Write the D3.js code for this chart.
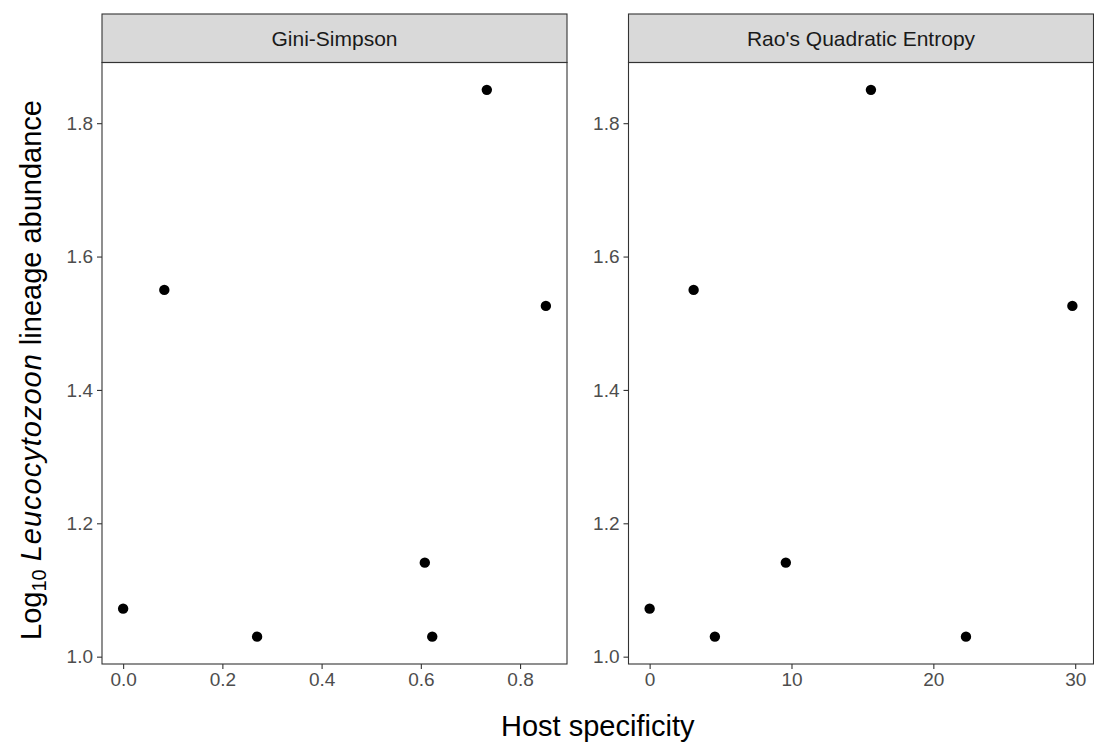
<!DOCTYPE html>
<html>
<head>
<meta charset="utf-8">
<script src="https://cdn.jsdelivr.net/npm/d3@7"></script>
<style>
  body { margin: 0; background: #fff; }
  svg text { font-family: "Liberation Sans", Arial, sans-serif; }
  .axis path { display: none; }
  .axis line { stroke: #333333; stroke-width: 1.1; }
  .axis text { fill: #4d4d4d; font-size: 19px; }
</style>
</head>
<body>
<svg id="chart"></svg>
<script>
// Data: one row per lineage, same y in both facets
const facets = ["Gini-Simpson", "Rao's Quadratic Entropy"];
const giniSimpson = [0, 0.083, 0.27, 0.608, 0.733, 0.623, 0.852];
const raoQE = [0, 3.1, 4.6, 9.6, 15.6, 22.3, 29.8];
const logAbundance = [1.072, 1.55, 1.03, 1.141, 1.85, 1.03, 1.526];
const yTicks = [1.0, 1.2, 1.4, 1.6, 1.8];
const xTicks = [[0, 0.2, 0.4, 0.6, 0.8], [0, 10, 20, 30]];
const xFormats = [d3.format(".1f"), d3.format("d")];

// Chart Dimensions
const width = 1094;
const height = 744;
const panelLeft = [102, 628.5];
const panelWidth = 465;
const stripTop = 14;
const panelTop = 62.5;
const panelBottom = 664;

const svg = d3.select("#chart").attr("width", width).attr("height", height);

// ggplot-like 5% expansion
function expand(ext) {
  const r = ext[1] - ext[0];
  return [ext[0] - 0.05 * r, ext[1] + 0.05 * r];
}

const yScale = d3
  .scaleLinear()
  .domain(expand(d3.extent(logAbundance)))
  .range([panelBottom, panelTop]);

const xSeries = [giniSimpson, raoQE];

facets.forEach((name, i) => {
  const x0 = panelLeft[i];
  const xScale = d3
    .scaleLinear()
    .domain(expand(d3.extent(xSeries[i])))
    .range([x0, x0 + panelWidth]);

  // Strip
  svg
    .append("rect")
    .attr("x", x0)
    .attr("y", stripTop)
    .attr("width", panelWidth)
    .attr("height", panelTop - stripTop)
    .attr("fill", "#d9d9d9")
    .attr("stroke", "#333333")
    .attr("stroke-width", 1.1);

  svg
    .append("text")
    .attr("x", x0 + panelWidth / 2)
    .attr("y", (stripTop + panelTop) / 2)
    .attr("dy", "0.35em")
    .attr("text-anchor", "middle")
    .attr("fill", "#1a1a1a")
    .style("font-size", "21px")
    .text(name);

  // Axes
  svg
    .append("g")
    .attr("class", "axis")
    .attr("transform", `translate(0, ${panelBottom})`)
    .call(
      d3.axisBottom(xScale).tickValues(xTicks[i]).tickFormat(xFormats[i]).tickSize(5).tickPadding(4)
    );

  svg
    .append("g")
    .attr("class", "axis")
    .attr("transform", `translate(${x0}, 0)`)
    .call(d3.axisLeft(yScale).tickValues(yTicks).tickFormat(d3.format(".1f")).tickSize(5).tickPadding(4));

  // Points
  svg
    .append("g")
    .selectAll("circle")
    .data(logAbundance)
    .enter()
    .append("circle")
    .attr("cx", (d, j) => xScale(xSeries[i][j]))
    .attr("cy", (d) => yScale(d))
    .attr("r", 5.2)
    .attr("fill", "#000");

  // Panel border
  svg
    .append("rect")
    .attr("x", x0)
    .attr("y", panelTop)
    .attr("width", panelWidth)
    .attr("height", panelBottom - panelTop)
    .attr("fill", "none")
    .attr("stroke", "#333333")
    .attr("stroke-width", 1.1);
});

// Axis titles
svg
  .append("text")
  .attr("x", (panelLeft[0] + panelLeft[1] + panelWidth) / 2)
  .attr("y", 736)
  .attr("text-anchor", "middle")
  .style("font-size", "29px")
  .text("Host specificity");

const yTitle = svg
  .append("text")
  .attr("transform", `translate(41, 370) rotate(-90)`)
  .attr("text-anchor", "middle")
  .style("font-size", "29px");
yTitle.append("tspan").text("Log");
yTitle.append("tspan").attr("dy", "0.25em").style("font-size", "20px").text("10");
yTitle.append("tspan").attr("dy", "-0.18em").text(" ");
yTitle.append("tspan").style("font-style", "italic").style("letter-spacing", "1px").text("Leucocytozoon");
yTitle.append("tspan").text(" lineage abundance");
</script>
</body>
</html>
